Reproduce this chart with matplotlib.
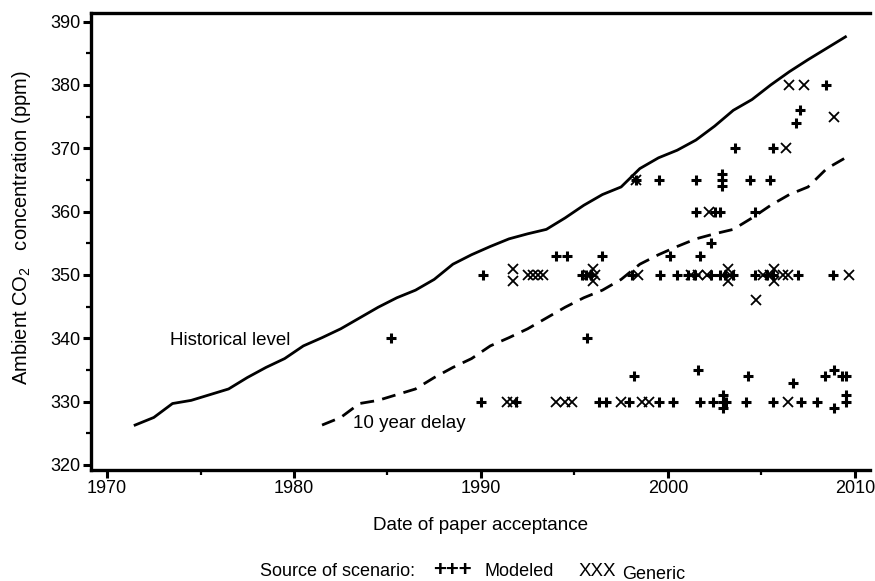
import matplotlib.pyplot as plt
from matplotlib.ticker import MultipleLocator

plt.rcParams['font.family'] = ['Liberation Sans', 'DejaVu Sans']
plt.rcParams['mathtext.fontset'] = 'custom'
plt.rcParams['mathtext.rm'] = 'Liberation Sans'
plt.rcParams['mathtext.it'] = 'Liberation Sans'

# historical CO2 (annual means, plotted mid-year)
hist_year = [1971.5, 1972.5, 1973.5, 1974.5, 1975.5, 1976.5, 1977.5, 1978.5, 1979.5, 1980.5,
             1981.5, 1982.5, 1983.5, 1984.5, 1985.5, 1986.5, 1987.5, 1988.5, 1989.5, 1990.5,
             1991.5, 1992.5, 1993.5, 1994.5, 1995.5, 1996.5, 1997.5, 1998.5, 1999.5, 2000.5,
             2001.5, 2002.5, 2003.5, 2004.5, 2005.5, 2006.5, 2007.5, 2008.5, 2009.5]
hist_ppm = [326.3, 327.5, 329.7, 330.2, 331.1, 332.0, 333.8, 335.4, 336.8, 338.8,
            340.1, 341.5, 343.2, 344.9, 346.4, 347.6, 349.3, 351.7, 353.2, 354.5,
            355.7, 356.5, 357.2, 359.0, 361.0, 362.7, 363.9, 366.8, 368.5, 369.7,
            371.3, 373.5, 376.0, 377.7, 380.0, 382.1, 384.0, 385.8, 387.6]
delay = 10

modeled_year = [1985.2, 1990.0, 1990.1, 1991.9, 1994.0, 1994.6, 1995.4, 1995.6, 1995.9, 1995.65,
                1996.45, 1996.3, 1996.7, 1997.9, 1998.1, 1998.2, 1998.3, 1999.5, 1999.5, 1999.6,
                2000.1, 2000.3, 2000.5, 2001.1, 2001.45, 2001.5, 2001.5, 2001.6, 2001.7, 2001.7,
                2002.3, 2002.3, 2002.4, 2002.5, 2002.8, 2002.8, 2003.05, 2003.5, 2002.9, 2002.9,
                2002.9, 2002.95, 2002.95, 2002.95, 2003.1, 2003.6, 2004.2, 2004.3, 2004.4, 2004.65,
                2004.65, 2005.3, 2005.6, 2005.45, 2005.6, 2005.6, 2006.7, 2006.85, 2006.95, 2007.06,
                2007.1, 2008.0, 2008.4, 2008.45, 2008.85, 2008.9, 2008.9, 2009.3, 2009.55, 2009.55,
                2009.55]
modeled_ppm = [340, 330, 350, 330, 353, 353, 350, 350, 350, 340,
               353, 330, 330, 330, 350, 334, 365, 365, 330, 350,
               353, 330, 350, 350, 350, 360, 365, 335, 353, 330,
               355, 350, 330, 360, 360, 350, 350, 350, 366, 365,
               364, 331, 330, 329, 330, 370, 330, 334, 365, 360,
               350, 350, 350, 365, 370, 330, 333, 374, 350, 376,
               330, 330, 334, 380, 350, 335, 329, 334, 334, 331,
               330]

generic_year = [1991.4, 1991.7, 1991.7, 1991.7, 1992.5, 1992.8, 1993.05, 1993.3, 1994.0, 1994.5,
                1994.85, 1995.75, 1996.1, 1996.0, 1996.0, 1997.5, 1998.3, 1998.4, 1998.6, 1999.0,
                2001.25, 2001.6, 2002.1, 2002.2, 2003.2, 2003.2, 2003.3, 2004.7, 2005.1, 2005.45,
                2005.7, 2005.7, 2006.15, 2006.4, 2006.3, 2006.4, 2006.5, 2007.3, 2008.9, 2009.7]
generic_ppm = [330, 330, 351, 349, 350, 350, 350, 350, 330, 330,
               330, 350, 350, 351, 349, 330, 365, 350, 330, 330,
               350, 350, 350, 360, 351, 349, 350, 346, 350, 350,
               351, 349, 350, 350, 370, 330, 380, 380, 375, 350]

fig = plt.figure(figsize=(8.75, 5.81), dpi=100)
ax = fig.add_axes([0.104, 0.191, 0.890, 0.787])

ax.plot(hist_year, hist_ppm, color='black', lw=2.0, solid_joinstyle='round')
dy = [y + delay for y in hist_year if y + delay <= 2010]
ax.plot(dy, hist_ppm[:len(dy)], color='black', lw=2.0, dashes=(5, 3))

ax.plot(modeled_year, modeled_ppm, '+', color='black', ms=7, mew=2.2)
ax.plot(generic_year, generic_ppm, 'x', color='black', ms=7, mew=1.3)

ax.text(1976.6, 339.6, 'Historical level', fontsize=13.5, ha='center', va='center')
ax.text(1983.15, 326.6, '10 year delay', fontsize=13.5, ha='left', va='center')

ax.set_xlim(1969.14, 2010.8)
ax.set_ylim(319.2, 391.4)
ax.xaxis.set_major_locator(MultipleLocator(10))
ax.xaxis.set_minor_locator(MultipleLocator(5))
ax.yaxis.set_major_locator(MultipleLocator(10))
ax.yaxis.set_minor_locator(MultipleLocator(5))
ax.tick_params(which='major', length=5.5, width=2.2, labelsize=13, pad=2)
ax.tick_params(which='minor', length=3.5, width=1.6)
for s in ['left', 'bottom', 'top']:
    ax.spines[s].set_linewidth(2.4)
ax.spines['right'].set_visible(False)

ax.set_xlabel('Date of paper acceptance', fontsize=13.6, labelpad=14)
ax.set_ylabel('Ambient CO$_2$   concentration (ppm)', fontsize=14.5)
ax.yaxis.set_label_coords(-0.075, 0.53)

fig.text(0.297, 0.008, 'Source of scenario:', fontsize=13, ha='left', va='baseline')
fig.text(0.495, 0.008, '+++', fontsize=16, fontweight='bold', ha='left', va='baseline')
fig.text(0.554, 0.008, 'Modeled', fontsize=13, ha='left', va='baseline')
fig.text(0.661, 0.008, 'XXX', fontsize=13.5, fontweight='light', ha='left', va='baseline')
fig.text(0.711, 0.004, 'Generic', fontsize=13, ha='left', va='baseline')

fig.savefig('out.png', dpi=100)
